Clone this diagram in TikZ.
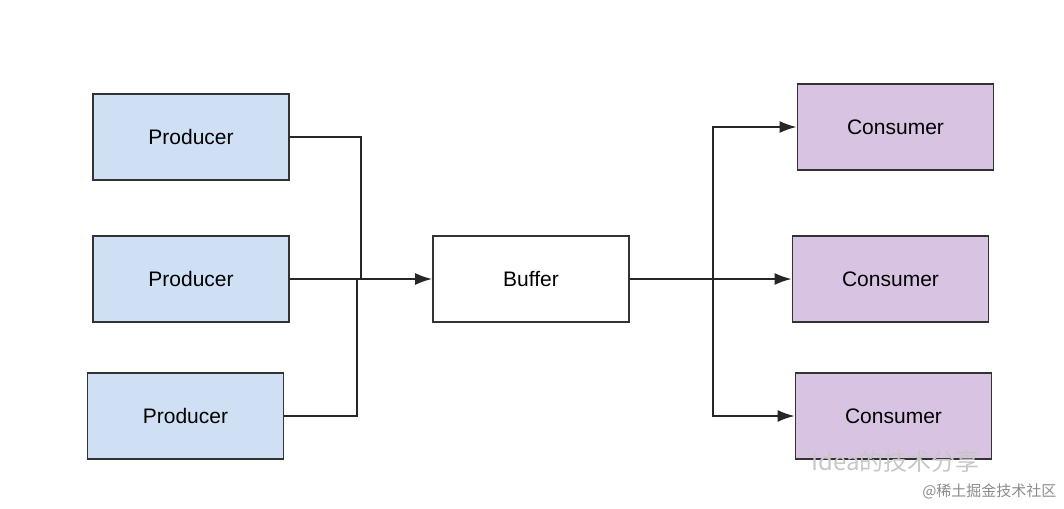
\documentclass[tikz,border=0pt]{standalone}
\usepackage{fontspec}
\setmainfont{Liberation Sans}
\newfontfamily\cjk{Noto Sans CJK SC}
\usetikzlibrary{arrows.meta}
\begin{document}
\begin{tikzpicture}[x=1pt,y=-1pt,
  box/.style={draw=black!80,line width=1.8pt,minimum width=196pt,minimum height=86pt,inner sep=0pt,font=\fontsize{21}{25}\selectfont},
  prod/.style={box,fill={rgb,255:red,207;green,224;blue,245}},
  cons/.style={box,fill={rgb,255:red,216;green,195;blue,226}},
  conn/.style={line width=1.8pt,draw=black!85},
  arr/.style={conn,-{Latex[length=17pt,width=12pt]}}]
\useasboundingbox[fill=white] (0,0) rectangle (1064,508);
\node[prod] (p1) at (191,137) {Producer};
\node[prod] (p2) at (191,279) {Producer};
\node[prod] (p3) at (185.5,416) {Producer};
\node[box,fill=white] (b) at (531,279) {Buffer};
\node[cons] (c1) at (895.5,127) {Consumer};
\node[cons] (c2) at (890.5,279) {Consumer};
\node[cons] (c3) at (893.5,416) {Consumer};
\coordinate (j1) at (361,279);
\coordinate (j3) at (357,279);
\coordinate (s) at (713,279);
\draw[conn] (p1.east) -| (j1);
\draw[conn] (p3.east) -| (j3);
\draw[arr] (p2.east) -- (b.west);
\draw[arr] (b.east) -- (c2.west);
\draw[arr] (s) |- (c1.west);
\draw[arr] (s) |- (c3.west);
\node[font=\cjk\fontsize{24}{28}\selectfont,text=black!22,anchor=west] (w1) at (808,461) {Idea的技术分享};
\node[font=\cjk\fontsize{15}{18}\selectfont,text=black!45,anchor=east] (w2) at (1060,491) {@稀土掘金技术社区};
\end{tikzpicture}
\end{document}
